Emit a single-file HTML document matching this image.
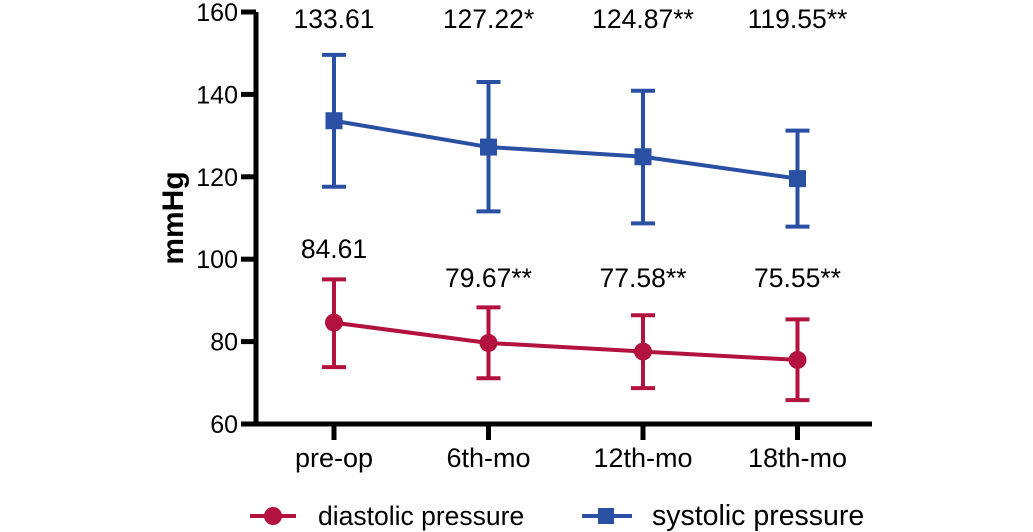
<!DOCTYPE html>
<html><head><meta charset="utf-8"><style>
body{margin:0;background:#fff}
svg{display:block;font-family:"Liberation Sans",Arial,sans-serif}
</style></head><body>
<svg id="chart" width="1033" height="532" viewBox="0 0 1033 532">
<g id="axes"></g>
<g id="plot"></g>
<text x="183" y="218" transform="rotate(-90 183 218)" text-anchor="middle" font-size="30" font-weight="bold">mmHg</text>
<g>
 <g>
  <line x1="250" y1="516" x2="296" y2="516" stroke="#b3123f" stroke-width="4"/>
  <circle cx="273" cy="516" r="9" fill="#b3123f"/>
  <text x="318" y="525" font-size="26.5">diastolic pressure</text>
 </g>
 <g>
  <line x1="582" y1="516" x2="632" y2="516" stroke="#2a50a3" stroke-width="4"/>
  <rect x="598" y="508" width="16" height="16" fill="#2a50a3"/>
  <text x="652" y="525" font-size="28.5">systolic pressure</text>
 </g>
</g>
</svg>
<script>
const categories=["pre-op","6th-mo","12th-mo","18th-mo"];
const systolic=[133.61,127.22,124.87,119.55];
const systolicHi=[149.6,143.0,140.9,131.2];
const systolicLo=[117.6,111.6,108.7,107.9];
const systolicLabels=["133.61","127.22*","124.87**","119.55**"];
const diastolic=[84.61,79.67,77.58,75.55];
const diastolicHi=[95.1,88.3,86.4,85.4];
const diastolicLo=[73.8,71.1,68.7,65.8];
const diastolicLabels=["84.61","79.67**","77.58**","75.55**"];
const yTicks=[60,80,100,120,140,160];

const NS="http://www.w3.org/2000/svg";
const y=v=>424-(v-60)*4.12;
const x=i=>334+i*154.5;
function mk(tag,attrs,parent,txt){const e=document.createElementNS(NS,tag);for(const k in attrs)e.setAttribute(k,attrs[k]);if(txt!==undefined)e.textContent=txt;parent.appendChild(e);return e;}
const axes=document.getElementById('axes'),plot=document.getElementById('plot');
let e=mk('line',{x1:256,y1:y(160),x2:256,y2:y(60)+2.5,stroke:'#000','stroke-width':5},axes);

e=mk('line',{x1:241,y1:y(60),x2:872,y2:y(60),stroke:'#000','stroke-width':5},axes);

yTicks.forEach(t=>{
 e=mk('line',{x1:241,y1:y(t),x2:256,y2:y(t),stroke:'#000','stroke-width':5},axes);
 
 e=mk('text',{x:238,y:y(t)+9,'text-anchor':'end','font-size':25},axes,t);
 
});
categories.forEach((c,i)=>{
 e=mk('line',{x1:x(i),y1:y(60),x2:x(i),y2:y(60)+16,stroke:'#000','stroke-width':5},axes);
 
 e=mk('text',{x:x(i),y:467,'text-anchor':'middle','font-size':27},axes,c);
 
});
function series(vals,hi,lo,labels,color,shape,name,labY){
 const g=mk('g',{},plot);
 
 let p=mk('polyline',{points:vals.map((v,i)=>x(i)+','+y(v)).join(' '),fill:'none',stroke:color,'stroke-width':4},g);
 
 vals.forEach((v,i)=>{
  let b=mk('path',{d:`M${x(i)},${y(hi[i])}V${y(lo[i])}M${x(i)-12},${y(hi[i])}H${x(i)+12}M${x(i)-12},${y(lo[i])}H${x(i)+12}`,stroke:color,'stroke-width':4,fill:'none'},g);
  
  let m=shape==='circle'?mk('circle',{cx:x(i),cy:y(v),r:9,fill:color},g):mk('rect',{x:x(i)-8.5,y:y(v)-8.5,width:17,height:17,fill:color},g);
  
  let t=mk('text',{x:x(i),y:labY[i],'text-anchor':'middle','font-size':26.5},g,labels[i]);
  
 });
}
series(systolic,systolicHi,systolicLo,systolicLabels,'#2a50a3','square','systolic',[28,28,28,28]);
series(diastolic,diastolicHi,diastolicLo,diastolicLabels,'#b3123f','circle','diastolic',[258,287,287,287]);
</script>
</body></html>
